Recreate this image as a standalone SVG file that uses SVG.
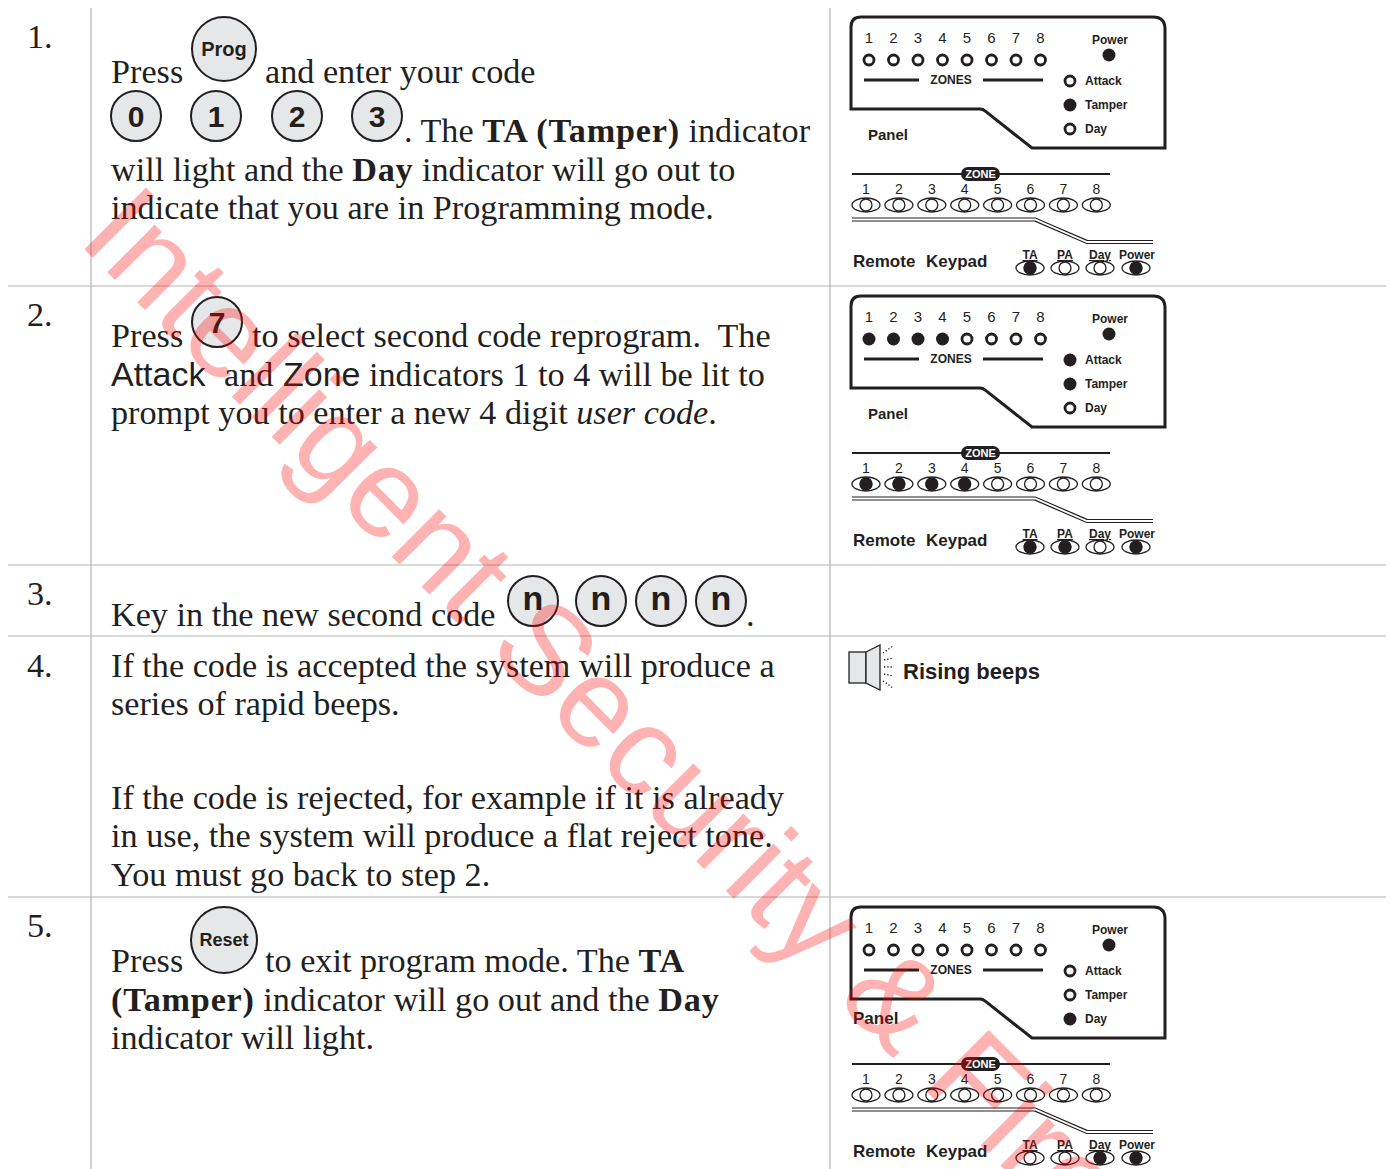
<svg xmlns="http://www.w3.org/2000/svg" xmlns:xlink="http://www.w3.org/1999/xlink" width="1391" height="1169" viewBox="0 0 1391 1169">
<style>
.t{font-family:"Liberation Serif","Times New Roman",serif;font-size:34.2px;fill:#231f20}
.s{font-family:"Liberation Sans",Arial,sans-serif;fill:#231f20}
.b{font-weight:bold}
.t .b{letter-spacing:0.8px}
.grid{stroke:#b3b3b3;stroke-width:1.2}
.key{fill:#e6e7e8;stroke:#231f20;stroke-width:2}
.kt{font-family:"Liberation Sans",Arial,sans-serif;font-weight:bold;fill:#231f20;text-anchor:middle}
.pn{font-family:"Liberation Sans",Arial,sans-serif;font-size:15px;fill:#231f20;text-anchor:middle}
.pl{font-family:"Liberation Sans",Arial,sans-serif;font-size:12px;font-weight:bold;fill:#231f20}
.kn{font-family:"Liberation Sans",Arial,sans-serif;font-size:14px;fill:#231f20;text-anchor:middle}
.on{fill:#231f20}
.off{fill:#fff;stroke:#231f20;stroke-width:2.8}
.ov{fill:#fff;stroke:#231f20;stroke-width:1.3}
.kon{fill:#231f20}
.wm{font-family:"Liberation Sans",Arial,sans-serif;font-size:127px;fill:#ff0000;fill-opacity:0.3}
</style>
<defs>
<g id="panelBase">
<path d="M851,27 Q851,17 861,17 H1153 Q1165,17 1165,29 V148 H1032 L985,111 Q983,109 980,109 H851 Z" fill="#fff" stroke="#231f20" stroke-width="3"/>
<text class="pn" x="869" y="43">1</text><text class="pn" x="893.5" y="43">2</text><text class="pn" x="918" y="43">3</text><text class="pn" x="942.5" y="43">4</text><text class="pn" x="967" y="43">5</text><text class="pn" x="991.5" y="43">6</text><text class="pn" x="1016" y="43">7</text><text class="pn" x="1040.5" y="43">8</text>
<line x1="864" y1="80" x2="919" y2="80" stroke="#231f20" stroke-width="3"/>
<line x1="983" y1="80" x2="1043" y2="80" stroke="#231f20" stroke-width="3"/>
<text class="pl" x="951" y="84" text-anchor="middle">ZONES</text>
<text class="pl" x="1110" y="44" text-anchor="middle">Power</text>
<text class="pl" x="1085" y="85">Attack</text>
<text class="pl" x="1085" y="109">Tamper</text>
<text class="pl" x="1085" y="133">Day</text>
</g>
<g id="keypadBase">
<line x1="852" y1="174" x2="1110" y2="174" stroke="#231f20" stroke-width="2"/>
<rect x="961" y="167" width="39" height="14" rx="7" fill="#231f20"/>
<text x="980.5" y="178" font-family="Liberation Sans,Arial,sans-serif" font-size="11" font-weight="bold" fill="#fff" text-anchor="middle">ZONE</text>
<text class="kn" x="866" y="194">1</text><text class="kn" x="898.9" y="194">2</text><text class="kn" x="931.8" y="194">3</text><text class="kn" x="964.7" y="194">4</text><text class="kn" x="997.6" y="194">5</text><text class="kn" x="1030.5" y="194">6</text><text class="kn" x="1063.4" y="194">7</text><text class="kn" x="1096.3" y="194">8</text>
<g id="zov">
<ellipse class="ov" cx="866" cy="205" rx="14" ry="7"/><circle class="ov" cx="866" cy="205" r="6"/>
</g>
<use xlink:href="#zov" x="32.9"/><use xlink:href="#zov" x="65.8"/><use xlink:href="#zov" x="98.7"/><use xlink:href="#zov" x="131.6"/><use xlink:href="#zov" x="164.5"/><use xlink:href="#zov" x="197.4"/><use xlink:href="#zov" x="230.3"/>
<path d="M852,219.5 H1035 L1087,242 H1153" fill="none" stroke="#231f20" stroke-width="4.2"/>
<path d="M852,219.5 H1035 L1087,242 H1153" fill="none" stroke="#fff" stroke-width="1.8"/>
<text class="s b" x="853" y="267" font-size="17">Remote</text>
<text class="s b" x="926" y="267" font-size="17">Keypad</text>
<text class="pl" x="1030" y="259" text-anchor="middle" font-size="11" text-decoration="underline">TA</text>
<text class="pl" x="1065" y="259" text-anchor="middle" font-size="11" text-decoration="underline">PA</text>
<text class="pl" x="1100" y="259" text-anchor="middle" font-size="11" text-decoration="underline">Day</text>
<text class="pl" x="1137" y="259" text-anchor="middle" font-size="11">Power</text>
<ellipse class="ov" cx="1030" cy="268" rx="14" ry="7"/><circle class="ov" cx="1030" cy="268" r="6"/>
<ellipse class="ov" cx="1065" cy="268" rx="14" ry="7"/><circle class="ov" cx="1065" cy="268" r="6"/>
<ellipse class="ov" cx="1100" cy="268" rx="14" ry="7"/><circle class="ov" cx="1100" cy="268" r="6"/>
<ellipse class="ov" cx="1136" cy="268" rx="14" ry="7"/><circle class="ov" cx="1136" cy="268" r="6"/>
</g>
</defs>
<rect width="1391" height="1169" fill="#fff"/>

<g id="connectors">
<line class="grid" x1="91" y1="8" x2="91" y2="1169"/>
<line class="grid" x1="830" y1="8" x2="830" y2="1169"/>
<line class="grid" x1="8" y1="286" x2="1386" y2="286"/>
<line class="grid" x1="8" y1="565" x2="1386" y2="565"/>
<line class="grid" x1="8" y1="636" x2="1386" y2="636"/>
<line class="grid" x1="8" y1="897" x2="1386" y2="897"/>
</g>

<g id="step1">
<text class="t" x="27" y="48">1.</text>
<text class="t" x="111" y="83">Press</text>
<circle class="key" cx="224" cy="49" r="32"/>
<text class="kt" x="224" y="56" font-size="20">Prog</text>
<text class="t" x="265" y="83">and enter your code</text>
<circle class="key" cx="136" cy="116" r="25"/><text class="kt" x="136" y="127" font-size="30">0</text>
<circle class="key" cx="216" cy="116" r="25"/><text class="kt" x="216" y="127" font-size="30">1</text>
<circle class="key" cx="297" cy="116" r="25"/><text class="kt" x="297" y="127" font-size="30">2</text>
<circle class="key" cx="377" cy="116" r="25"/><text class="kt" x="377" y="127" font-size="30">3</text>
<text class="t" x="404" y="142">. The <tspan class="b">TA (Tamper)</tspan> indicator</text>
<text class="t" x="111" y="181">will light and the <tspan class="b">Day</tspan> indicator will go out to</text>
<text class="t" x="111" y="219">indicate that you are in Programming mode.</text>
</g>

<g id="panel1">
<use xlink:href="#panelBase"/>
<circle class="off" cx="869" cy="60" r="5"/><circle class="off" cx="893.5" cy="60" r="5"/><circle class="off" cx="918" cy="60" r="5"/><circle class="off" cx="942.5" cy="60" r="5"/><circle class="off" cx="967" cy="60" r="5"/><circle class="off" cx="991.5" cy="60" r="5"/><circle class="off" cx="1016" cy="60" r="5"/><circle class="off" cx="1040.5" cy="60" r="5"/>
<circle class="on" cx="1109" cy="55" r="6.5"/>
<circle class="off" cx="1070" cy="81" r="5"/>
<circle class="on" cx="1070" cy="105" r="6.5"/>
<circle class="off" cx="1070" cy="129" r="5"/>
<text class="s b" x="868" y="140" font-size="15">Panel</text>
</g>
<g id="keypad1">
<use xlink:href="#keypadBase"/>
<circle class="kon" cx="1030" cy="268" r="6.3"/>
<circle class="kon" cx="1136" cy="268" r="6.3"/>
</g>

<g id="step2">
<text class="t" x="27" y="326">2.</text>
<text class="t" x="111" y="347">Press</text>
<circle class="key" cx="217" cy="322" r="25"/><text class="kt" x="217" y="333" font-size="30">7</text>
<text class="t" x="252" y="347" xml:space="preserve">to select second code reprogram.  The</text>
<text class="s" x="111" y="386" font-size="34">Attack</text>
<text class="t" x="224" y="386">and</text>
<text class="s" x="283" y="386" font-size="34">Zone</text>
<text class="t" x="369" y="386">indicators 1 to 4 will be lit to</text>
<text class="t" x="111" y="424">prompt you to enter a new 4 digit <tspan font-style="italic">user code</tspan>.</text>
</g>

<g id="panel2" transform="translate(0,279)">
<use xlink:href="#panelBase"/>
<circle class="on" cx="869" cy="60" r="6.5"/><circle class="on" cx="893.5" cy="60" r="6.5"/><circle class="on" cx="918" cy="60" r="6.5"/><circle class="on" cx="942.5" cy="60" r="6.5"/><circle class="off" cx="967" cy="60" r="5"/><circle class="off" cx="991.5" cy="60" r="5"/><circle class="off" cx="1016" cy="60" r="5"/><circle class="off" cx="1040.5" cy="60" r="5"/>
<circle class="on" cx="1109" cy="55" r="6.5"/>
<circle class="on" cx="1070" cy="81" r="6.5"/>
<circle class="on" cx="1070" cy="105" r="6.5"/>
<circle class="off" cx="1070" cy="129" r="5"/>
<text class="s b" x="868" y="140" font-size="15">Panel</text>
</g>
<g id="keypad2" transform="translate(0,279)">
<use xlink:href="#keypadBase"/>
<circle class="kon" cx="866" cy="205" r="6.3"/><circle class="kon" cx="898.9" cy="205" r="6.3"/><circle class="kon" cx="931.8" cy="205" r="6.3"/><circle class="kon" cx="964.7" cy="205" r="6.3"/>
<circle class="kon" cx="1030" cy="268" r="6.3"/>
<circle class="kon" cx="1065" cy="268" r="6.3"/>
<circle class="kon" cx="1136" cy="268" r="6.3"/>
</g>

<g id="step3">
<text class="t" x="27" y="605">3.</text>
<text class="t" x="111" y="626">Key in the new second code</text>
<circle class="key" cx="533" cy="601" r="25"/><text class="kt" x="533" y="610" font-size="34">n</text>
<circle class="key" cx="601" cy="601" r="25"/><text class="kt" x="601" y="610" font-size="34">n</text>
<circle class="key" cx="661" cy="601" r="25"/><text class="kt" x="661" y="610" font-size="34">n</text>
<circle class="key" cx="721" cy="601" r="25"/><text class="kt" x="721" y="610" font-size="34">n</text>
<text class="t" x="746" y="626">.</text>
</g>

<g id="step4">
<text class="t" x="27" y="677">4.</text>
<text class="t" x="111" y="677">If the code is accepted the system will produce a</text>
<text class="t" x="111" y="715">series of rapid beeps.</text>
<text class="t" x="111" y="809">If the code is rejected, for example if it is already</text>
<text class="t" x="111" y="847">in use, the system will produce a flat reject tone.</text>
<text class="t" x="111" y="886">You must go back to step 2.</text>
</g>

<g id="beeps">
<rect x="849" y="652" width="17" height="31" fill="#e6e7e8" stroke="#231f20" stroke-width="1.3"/>
<path d="M866,652 L880,645 V690 L866,683 Z" fill="#e6e7e8" stroke="#231f20" stroke-width="1.3"/>
<g stroke="#231f20" stroke-width="1.3" stroke-dasharray="1.3,2" fill="none">
<path d="M883,653 L893,646"/>
<path d="M884,660 L893,658"/>
<path d="M884,667 L894,667"/>
<path d="M884,674 L893,676"/>
<path d="M883,681 L893,688"/>
</g>
<text class="s b" x="903" y="679" font-size="22">Rising beeps</text>
</g>

<g id="step5">
<text class="t" x="27" y="937">5.</text>
<text class="t" x="111" y="972">Press</text>
<circle class="key" cx="224" cy="940" r="33"/>
<text class="kt" x="224" y="946" font-size="18">Reset</text>
<text class="t" x="265" y="972">to exit program mode. The <tspan class="b">TA</tspan></text>
<text class="t" x="111" y="1011"><tspan class="b">(Tamper)</tspan> indicator will go out and the <tspan class="b">Day</tspan></text>
<text class="t" x="111" y="1049">indicator will light.</text>
</g>

<g id="panel5" transform="translate(0,890)">
<use xlink:href="#panelBase"/>
<circle class="off" cx="869" cy="60" r="5"/><circle class="off" cx="893.5" cy="60" r="5"/><circle class="off" cx="918" cy="60" r="5"/><circle class="off" cx="942.5" cy="60" r="5"/><circle class="off" cx="967" cy="60" r="5"/><circle class="off" cx="991.5" cy="60" r="5"/><circle class="off" cx="1016" cy="60" r="5"/><circle class="off" cx="1040.5" cy="60" r="5"/>
<circle class="on" cx="1109" cy="55" r="6.5"/>
<circle class="off" cx="1070" cy="81" r="5"/>
<circle class="off" cx="1070" cy="105" r="5"/>
<circle class="on" cx="1070" cy="129" r="6.5"/>
<text class="s b" x="853" y="134" font-size="17">Panel</text>
</g>
<g id="keypad5" transform="translate(0,890)">
<use xlink:href="#keypadBase"/>
<circle class="kon" cx="1100" cy="268" r="6.3"/>
<circle class="kon" cx="1136" cy="268" r="6.3"/>
</g>

<g id="watermark">
<text class="wm" transform="translate(76,241) rotate(45)">Intelligent Security &amp; Fire</text>
</g>
</svg>
